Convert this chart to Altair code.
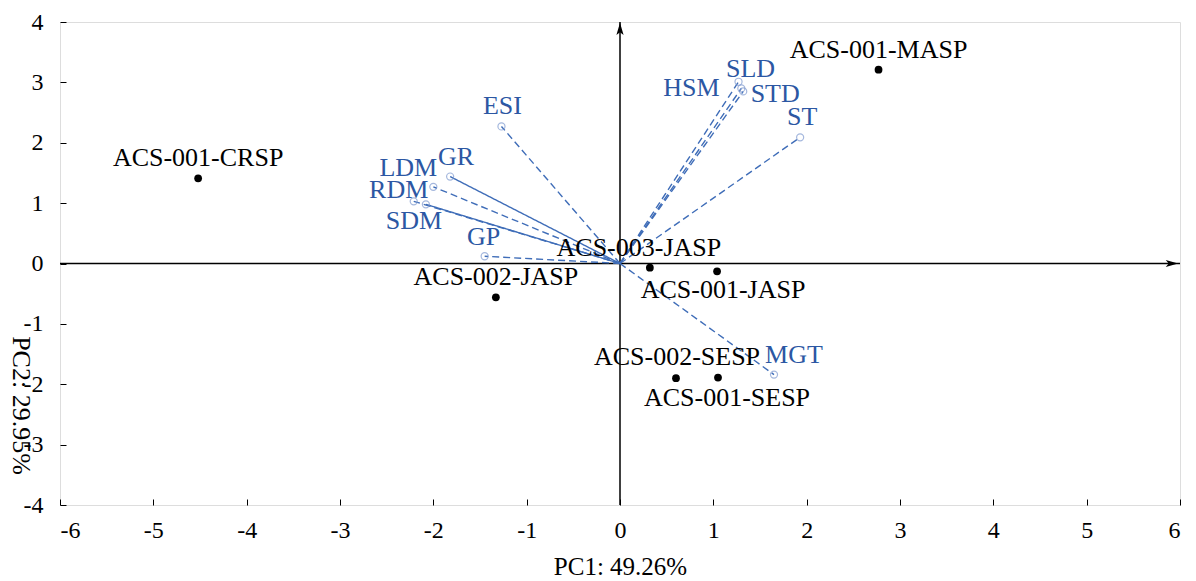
import altair as alt
import pandas as pd

# Sample scores
samples = ["ACS-001-CRSP", "ACS-001-MASP", "ACS-003-JASP", "ACS-001-JASP",
           "ACS-002-JASP", "ACS-002-SESP", "ACS-001-SESP"]
pc1 = [-4.52, 2.77, 0.32, 1.04, -1.33, 0.60, 1.05]
pc2 = [1.41, 3.21, -0.07, -0.13, -0.56, -1.90, -1.89]

# Variable loadings
variables = ["ESI", "GR", "LDM", "RDM", "SDM", "GP", "HSM", "SLD", "STD", "ST", "MGT"]
vx = [-1.27, -1.82, -2.00, -2.21, -2.08, -1.45, 1.30, 1.27, 1.32, 1.93, 1.65]
vy = [2.27, 1.44, 1.27, 1.03, 0.98, 0.12, 2.90, 3.01, 2.85, 2.09, -1.84]
vstyle = ["dashed", "solid", "dashed", "dashed", "solid", "dashed",
          "dashed", "dashed", "dashed", "dashed", "dashed"]

x_ticks = list(range(-6, 7))
y_ticks = list(range(-4, 5))

# label offsets (styling, in px)
sample_off = {
    "ACS-001-CRSP": (0, -20), "ACS-001-MASP": (0, -20), "ACS-003-JASP": (-11, -20),
    "ACS-001-JASP": (6, 19), "ACS-002-JASP": (0, -20), "ACS-002-SESP": (1, -21),
    "ACS-001-SESP": (9, 20),
}
var_off = {
    "ESI": (1, -20), "GR": (6, -20), "LDM": (-25, -19), "RDM": (-15, -11),
    "SDM": (-12, 17), "GP": (-1, -19), "HSM": (-50, 0), "SLD": (12, -13),
    "STD": (32, 3), "ST": (2, -20), "MGT": (20, -20),
}

sdf = pd.DataFrame({"name": samples, "pc1": pc1, "pc2": pc2})
vdf = pd.DataFrame({"name": variables, "vx": vx, "vy": vy, "style": vstyle})
one = pd.DataFrame({"k": [0]})

FONT = "Liberation Serif"
BLUE_TXT = "#2C57A3"
BLUE_LN = "#3F6DB8"
BLUE_PT = "#7F9AD0"

xs = alt.Scale(domain=[-6, 6], nice=False, zero=False)
ys = alt.Scale(domain=[-4, 4], nice=False, zero=False)

lab_x_axis = alt.Axis(values=x_ticks, orient="bottom", grid=False, ticks=False, domain=False,
                      labelExpr="datum.value + ''", labelFont=FONT, labelFontSize=24,
                      labelColor="black", labelPadding=13, title="PC1: 49.26%",
                      titleFont=FONT, titleFontSize=25, titleFontWeight="normal",
                      titleColor="black", titleY=69, titleBaseline="alphabetic")
lab_y_axis = alt.Axis(values=y_ticks, orient="left", grid=False, ticks=False, domain=False,
                      labelExpr="datum.value + ''", labelFont=FONT, labelFontSize=24,
                      labelColor="black", labelPadding=17, title="PC2: 29.95%",
                      titleFont=FONT, titleFontSize=26, titleFontWeight="normal",
                      titleColor="black", titleAngle=90, titleX=-40, titleY=383,
                      titleAlign="center", titleBaseline="middle")
tick_x_axis = alt.Axis(values=x_ticks, orient="bottom", grid=False, ticks=True, tickSize=6,
                       tickColor="black", labels=False, domain=False, title=None, offset=-6)
tick_y_axis = alt.Axis(values=y_ticks, orient="left", grid=False, ticks=True, tickSize=6,
                       tickColor="black", labels=False, domain=False, title=None, offset=-6)

# axis-carrying layers
axes_lab = alt.Chart(sdf).mark_point(opacity=0).encode(
    x=alt.X("pc1:Q", scale=xs, axis=lab_x_axis),
    y=alt.Y("pc2:Q", scale=ys, axis=lab_y_axis),
)
axes_tick = alt.Chart(sdf).mark_point(opacity=0).encode(
    x=alt.X("pc1:Q", scale=xs, axis=tick_x_axis),
    y=alt.Y("pc2:Q", scale=ys, axis=tick_y_axis),
)

# center lines
vline = alt.Chart(one).transform_calculate(z="0").mark_rule(color="black", strokeWidth=1.5).encode(
    x=alt.X("z:Q", scale=xs, axis=None)
)
hline = alt.Chart(one).transform_calculate(z="0").mark_rule(color="black", strokeWidth=1.5).encode(
    y=alt.Y("z:Q", scale=ys, axis=None)
)
up_arrow = alt.Chart(one).transform_calculate(ax="0", ay="3.88").mark_point(
    shape="M0,-1 L0.55,0.9 L0,0.45 L-0.55,0.9 Z", filled=True, color="black", size=170, opacity=1
).encode(x=alt.X("ax:Q", scale=xs, axis=None), y=alt.Y("ay:Q", scale=ys, axis=None))
right_arrow = alt.Chart(one).transform_calculate(ax="5.91", ay="0").mark_point(
    shape="M1,0 L-0.9,0.55 L-0.45,0 L-0.9,-0.55 Z", filled=True, color="black", size=170, opacity=1
).encode(x=alt.X("ax:Q", scale=xs, axis=None), y=alt.Y("ay:Q", scale=ys, axis=None))

# loading vectors
vecs = alt.Chart(vdf).transform_calculate(ox="0", oy="0").mark_rule(
    color=BLUE_LN, strokeWidth=1.4).encode(
    x=alt.X("ox:Q", scale=xs, axis=None),
    y=alt.Y("oy:Q", scale=ys, axis=None),
    x2="vx:Q",
    y2="vy:Q",
    strokeDash=alt.StrokeDash("style:N", scale=alt.Scale(domain=["solid", "dashed"],
                                                          range=[[1, 0], [7, 4]]), legend=None),
)
vpts = alt.Chart(vdf).mark_point(shape="circle", filled=False, color=BLUE_PT, size=50,
                                 strokeWidth=1.2).encode(
    x=alt.X("vx:Q", scale=xs, axis=None), y=alt.Y("vy:Q", scale=ys, axis=None)
)

spts = alt.Chart(sdf).mark_circle(color="black", size=60, opacity=1).encode(
    x=alt.X("pc1:Q", scale=xs, axis=None), y=alt.Y("pc2:Q", scale=ys, axis=None)
)

layers = [axes_lab, axes_tick, vline, hline, up_arrow, right_arrow, vecs, vpts, spts]

for name, (dx, dy) in var_off.items():
    layers.append(
        alt.Chart(vdf).transform_filter(alt.datum.name == name).mark_text(
            font=FONT, fontSize=26, color=BLUE_TXT, dx=dx, dy=dy,
            align="center", baseline="middle"
        ).encode(x=alt.X("vx:Q", scale=xs, axis=None), y=alt.Y("vy:Q", scale=ys, axis=None),
                 text="name:N")
    )
for name, (dx, dy) in sample_off.items():
    layers.append(
        alt.Chart(sdf).transform_filter(alt.datum.name == name).mark_text(
            font=FONT, fontSize=26, color="black", dx=dx, dy=dy,
            align="center", baseline="middle"
        ).encode(x=alt.X("pc1:Q", scale=xs, axis=None), y=alt.Y("pc2:Q", scale=ys, axis=None),
                 text="name:N")
    )

chart = alt.layer(*layers).resolve_axis(x="independent", y="independent").properties(
    width=1120, height=483,
    autosize=alt.AutoSizeParams(type="none"),
    padding={"left": 52, "top": 14, "right": 8, "bottom": 75},
).configure_view(stroke="black", strokeWidth=1.2).configure(background="white")

chart.save("out.html", embed_options={"renderer": "svg", "actions": False})
